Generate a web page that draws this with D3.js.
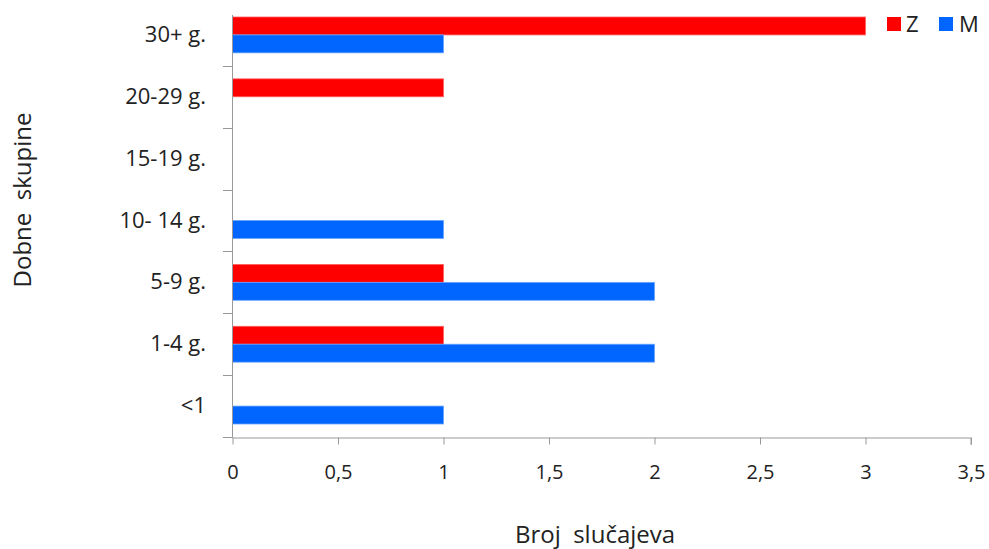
<!DOCTYPE html>
<html><head><meta charset="utf-8">
<script src="https://cdn.jsdelivr.net/npm/d3@7"></script>
<style>body{margin:0;background:#fff}svg{display:block}text{font-family:"Open Sans","Noto Sans",sans-serif;fill:#222}</style>
</head><body>
<script>
const categories = ["<1","1-4 g.","5-9 g.","10- 14 g.","15-19 g.","20-29 g.","30+ g."];
const seriesNames = ["Z","M"];
const valuesZ = [0,1,1,0,0,1,3];
const valuesM = [1,2,2,1,0,0,1];
const xTicks = [0,0.5,1,1.5,2,2.5,3,3.5];
const colors = {Z:"#ff0000", M:"#0066ff"};
const strokes = {Z:"#ff6060", M:"#66a3ff"};

const W=989,H=549;
const svg=d3.select("body").append("svg").attr("width",W).attr("height",H);
const x=d3.scaleLinear().domain([0,3.5]).range([232.5,971]);
const y=d3.scaleBand().domain(categories).range([437,4]);
const inner=d3.scaleBand().domain(seriesNames).range([13,y.bandwidth()-13]);

const data={Z:valuesZ,M:valuesM};
seriesNames.forEach(s=>{
  svg.append("g").selectAll("rect").data(categories.map((c,i)=>({c,v:data[s][i]})).filter(d=>d.v>0))
   .join("rect")
   .attr("x",x(0)).attr("y",d=>y(d.c)+inner(s))
   .attr("width",d=>x(d.v)-x(0)).attr("height",inner.bandwidth())
   .attr("fill",colors[s]).attr("stroke",strokes[s]).attr("stroke-width",0.8);
});

const xa=svg.append("g").attr("transform","translate(0,437.5)")
  .call(d3.axisBottom(x).tickValues(xTicks).tickSize(7).tickPadding(20)
  .tickFormat(d=>String(d).replace(".",",")));
xa.select(".domain").attr("stroke","#999").attr("d",`M${x(0)},0.5H${x(3.5)}V7.5`);
xa.selectAll(".tick line").attr("stroke","#999");
xa.selectAll("text").attr("font-size",20).style("font-family","'Open Sans','Noto Sans',sans-serif").attr("fill","#222");

const yg=svg.append("g");
yg.append("line").attr("x1",x(0)).attr("x2",x(0)).attr("y1",15).attr("y2",437.5).attr("stroke","#999");
const bounds=categories.map(c=>y(c)).concat([437]);
yg.selectAll("line.t").data(bounds.filter(v=>v>10)).join("line").attr("class","t")
  .attr("x1",223).attr("x2",x(0)).attr("y1",d=>Math.round(d)+0.5).attr("y2",d=>Math.round(d)+0.5).attr("stroke","#999");
yg.selectAll("text").data(categories).join("text")
  .attr("x",206).attr("y",d=>y(d)+y.bandwidth()/2+7).attr("text-anchor","end")
  .attr("font-size",22).text(d=>d);

const lg=svg.append("g");
[["Z",887,906],["M",939,959]].forEach(([s,rx,tx])=>{
  lg.append("rect").attr("x",rx).attr("y",17).attr("width",14).attr("height",14).attr("fill",colors[s]);
  lg.append("text").attr("x",tx).attr("y",32).attr("font-size",22).text(s);
});

svg.append("text").attr("x",595).attr("y",543).attr("text-anchor","middle").attr("font-size",24)
  .style("white-space","pre").text("Broj  slučajeva");
svg.append("text").attr("transform","translate(31,200) rotate(-90)").attr("text-anchor","middle").attr("font-size",24)
  .style("white-space","pre").text("Dobne  skupine");
</script>
</body></html>
